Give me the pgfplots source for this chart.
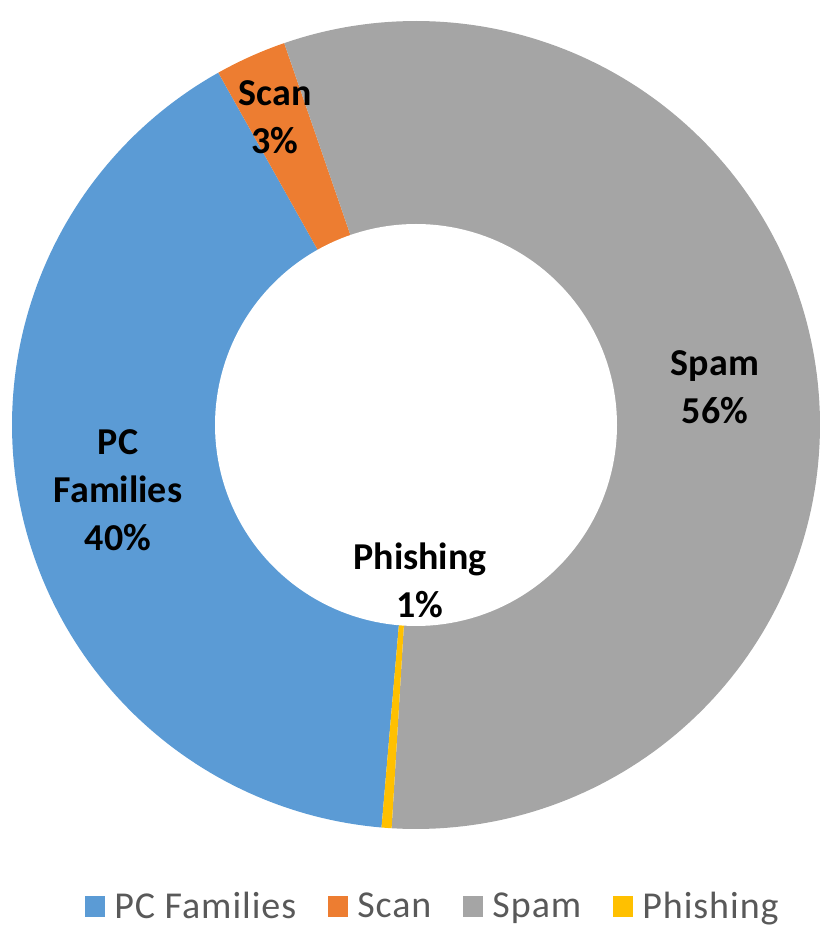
\documentclass[border=0pt]{standalone}
\usepackage{fontspec}
\setmainfont{Carlito}
\usepackage{pgfplots}
\usepackage{pgfplotstable}
\pgfplotsset{compat=1.18}

\definecolor{pcblue}{HTML}{5B9BD5}
\definecolor{scanorange}{HTML}{ED7D31}
\definecolor{spamgray}{HTML}{A5A5A5}
\definecolor{phishyellow}{HTML}{FFC000}
\definecolor{legendgray}{HTML}{595959}

% share of each slice in percent (clockwise order)
\pgfplotstableread{
name     value
PC       40.5
Scan     2.85
Spam     56.25
Phishing 0.4
}\slices

\pgfplotstablegetelem{0}{value}\of\slices \let\vPC\pgfplotsretval
\pgfplotstablegetelem{1}{value}\of\slices \let\vScan\pgfplotsretval
\pgfplotstablegetelem{2}{value}\of\slices \let\vSpam\pgfplotsretval
\pgfplotstablegetelem{3}{value}\of\slices \let\vPhish\pgfplotsretval

% angles clockwise from 12 o'clock; first slice starts at 184.9 deg
\pgfmathsetmacro\aA{184.9}
\pgfmathsetmacro\aB{\aA+3.6*\vPC}
\pgfmathsetmacro\aC{\aB+3.6*\vScan}
\pgfmathsetmacro\aD{\aC+3.6*\vSpam}
\pgfmathsetmacro\aE{\aD+3.6*\vPhish}

\def\cx{416}
\def\cy{523}
\def\Ro{404}
\def\Ri{201}

\begin{document}
\begin{tikzpicture}
\begin{axis}[
  width=415pt, height=474pt, scale only axis,
  xmin=0, xmax=830, ymin=0, ymax=948,
  hide axis, clip=false,
  legend columns=4,
  legend image code/.code={\fill[#1] (0pt,-5pt) rectangle (10pt,5.3pt);},
  legend style={at={(axis cs:434,41)}, anchor=center, draw=none, fill=none,
    font=\fontsize{19pt}{22pt}\selectfont\addfontfeature{LetterSpace=2.5},
    text=legendgray,
    /tikz/every odd column/.append style={column sep=2.5pt},
    /tikz/every even column/.append style={column sep=14pt}},
]
\path (axis cs:0,0) rectangle (axis cs:830,948);

\addplot[fill=pcblue, draw=none, domain=\aA:\aB, samples=120, variable=\t]
  ({\cx+\Ro*sin(\t)},{\cy+\Ro*cos(\t)}) -- (axis cs:\cx,\cy) -- cycle;
\addlegendentry{PC Families}
\addplot[fill=scanorange, draw=none, domain=\aB:\aC, samples=20, variable=\t]
  ({\cx+\Ro*sin(\t)},{\cy+\Ro*cos(\t)}) -- (axis cs:\cx,\cy) -- cycle;
\addlegendentry{Scan}
\addplot[fill=spamgray, draw=none, domain=\aC:\aD, samples=160, variable=\t]
  ({\cx+\Ro*sin(\t)},{\cy+\Ro*cos(\t)}) -- (axis cs:\cx,\cy) -- cycle;
\addlegendentry{Spam}
\addplot[fill=phishyellow, draw=none, domain=\aD:\aE, samples=5, variable=\t]
  ({\cx+\Ro*sin(\t)},{\cy+\Ro*cos(\t)}) -- (axis cs:\cx,\cy) -- cycle;
\addlegendentry{Phishing}

% hole of the doughnut
\addplot[fill=white, draw=none, domain=0:360, samples=181, variable=\t, forget plot]
  ({\cx+\Ri*sin(\t)},{\cy+\Ri*cos(\t)}) -- cycle;

\begin{scope}[every node/.style={align=center, inner sep=0pt,
    font=\fontsize{19pt}{24pt}\selectfont\bfseries}]
\node at (axis cs:275,831) {Scan\\3\%};
\node at (axis cs:715,561) {Spam\\56\%};
\node at (axis cs:118,458) {PC\\Families\\40\%};
\node at (axis cs:420,368) {Phishing\\1\%};
\end{scope}
\end{axis}
\end{tikzpicture}
\end{document}
